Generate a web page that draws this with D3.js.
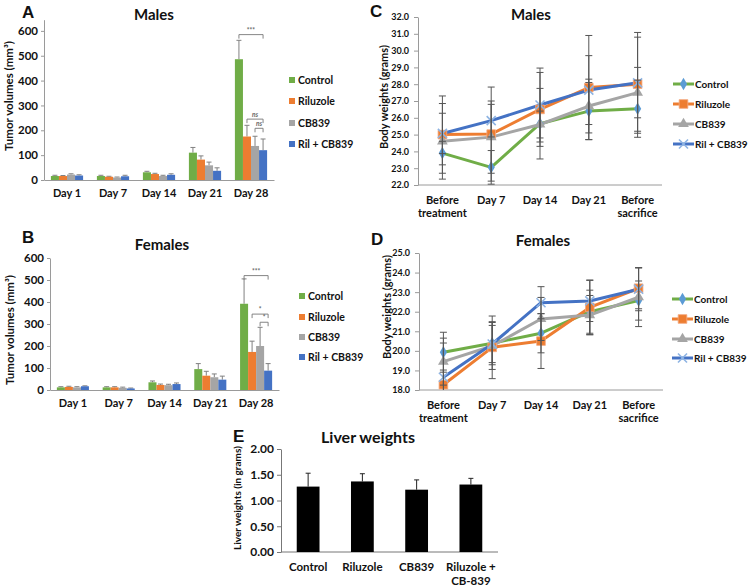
<!DOCTYPE html>
<html><head><meta charset="utf-8">
<script src="https://cdn.jsdelivr.net/npm/d3@7"></script>
<style>
body{margin:0;background:#fff;}
svg{font-family:Lato,"Open Sans",sans-serif;font-weight:bold;}
</style></head><body>
<svg id="c" width="750" height="587"></svg>
<script>
// ---------- data ----------
const days = ["Day 1","Day 7","Day 14","Day 21","Day 28"];
const groups = ["Control","Riluzole","CB839","Ril + CB839"];
const groupColors = ["#70ad47","#ed7d31","#a5a5a5","#4472c4"];
const tumorTicks = [0,100,200,300,400,500,600];

// Panel A: males tumor volume (mean, +error)
const maleControl = [16,16,31,110,486];
const maleRiluzole = [16,13,24,82,175];
const maleCB839 = [22,10,16,59,137];
const maleRilCB = [18,15,21,37,120];
const maleControlErr = [3,3,4,21,76];
const maleRiluzoleErr = [2,2,3,15,45];
const maleCB839Err = [3,2,3,13,39];
const maleRilCBErr = [3,4,4,12,45];
const maleSig = [[0,3,585,"***"],[1,3,245,"ns"],[2,3,208,"ns"]];

// Panel B: females tumor volume
const femControl = [12,12,35,95,392];
const femRiluzole = [14,12,23,65,173];
const femCB839 = [12,10,22,58,200];
const femRilCB = [17,7,27,47,88];
const femControlErr = [3,3,6,25,113];
const femRiluzoleErr = [3,3,4,20,49];
const femCB839Err = [3,3,4,15,85];
const femRilCBErr = [2,2,5,16,32];
const femSig = [[0,3,520,"***"],[1,3,345,"*"],[2,3,308,"*"]];

// Panels C, D: body weights
const timepoints = [["Before","treatment"],["Day 7"],["Day 14"],["Day 21"],["Before","sacrifice"]];
const maleBWTicks = [22,23,24,25,26,27,28,29,30,31,32];
const maleBWControl = [23.9,23.05,25.65,26.4,26.54];
const maleBWRiluzole = [25.0,25.03,26.5,27.8,28.0];
const maleBWCB839 = [24.6,24.85,25.6,26.7,27.5];
const maleBWRilCB = [25.07,25.83,26.76,27.65,28.08];
const maleBWControlSD = [0.7,1.0,2.1,1.7,1.7];
const maleBWRiluzoleSD = [2.3,2.8,2.2,3.1,2.8];
const maleBWCB839SD = [2.25,2.15,0.8,1.6,1.5];
const maleBWRilCBSD = [1.2,0.97,2.2,2.05,3.0];

const femBWTicks = [18,19,20,21,22,23,24,25];
const femBWControl = [19.93,20.39,20.9,22.0,22.57];
const femBWRiluzole = [18.27,20.18,20.5,22.22,23.2];
const femBWCB839 = [19.45,20.25,21.63,21.83,22.74];
const femBWRilCB = [18.65,20.35,22.46,22.55,23.15];
const femBWControlSD = [1.02,1.1,1.0,1.1,1.0];
const femBWRiluzoleSD = [0.75,1.6,1.4,1.4,1.05];
const femBWCB839SD = [1.2,1.2,1.1,1.0,1.5];
const femBWRilCBSD = [1.75,0.95,0.82,1.05,1.1];

// Panel E: liver weights
const liverGroups = [["Control"],["Riluzole"],["CB839"],["Riluzole +","CB-839"]];
const liverTicks = [0,0.5,1.0,1.5,2.0];
const liverValues = [1.27,1.37,1.21,1.31];
const liverErr = [0.26,0.15,0.19,0.12];

// ---------- drawing ----------
const svg = d3.select("#c");
const AXIS = "#9a9a9a";

function text(x,y,str,size,opts={}){
  const t = svg.append("text").attr("x",x).attr("y",y).attr("font-size",size)
    .attr("text-anchor",opts.anchor||"middle").attr("fill",opts.fill||"#111").text(str);
  if(opts.family) t.attr("font-family",opts.family);
  if(opts.rotate) t.attr("transform",`rotate(-90,${x},${y})`);
  if(opts.italic) t.attr("font-style","italic");
  return t;
}

function barPanel(cfg){
  const x0 = d3.scaleBand().domain(days).range(cfg.xr).paddingInner(0.3).paddingOuter(0.15);
  const x1 = d3.scaleBand().domain(groups).range([0,x0.bandwidth()]);
  const y = d3.scaleLinear().domain(cfg.yd).range(cfg.yr);
  const g = svg.append("g");
  const ya = g.append("g").attr("transform",`translate(${cfg.xr[0]},0)`)
    .call(d3.axisLeft(y).tickValues(tumorTicks).tickSize(3).tickPadding(3).tickSizeOuter(0));
  ya.select(".domain").attr("stroke",AXIS);
  ya.selectAll(".tick line").attr("stroke",AXIS);
  ya.selectAll("text").attr("font-size",11.5).attr("font-family","Lato").attr("font-weight","bold").attr("fill","#111");
  const xa = g.append("g").attr("transform",`translate(0,${y(0)})`)
    .call(d3.axisBottom(x0).tickSize(0).tickPadding(9).tickSizeOuter(0));
  xa.select(".domain").attr("stroke",AXIS);
  xa.selectAll("text").attr("font-size",11).attr("font-family","Lato").attr("font-weight","bold").attr("fill","#111");
  cfg.series.forEach((vals,si)=>{
    const errs = cfg.errs[si];
    vals.forEach((v,di)=>{
      const bx = x0(days[di]) + x1(groups[si]);
      const bw = x1.bandwidth();
      const cx = bx + bw/2;
      g.append("line").attr("x1",cx).attr("x2",cx).attr("y1",y(v)).attr("y2",y(v+errs[di]))
        .attr("stroke","#808080").attr("stroke-width",1);
      g.append("line").attr("x1",cx-2.5).attr("x2",cx+2.5).attr("y1",y(v+errs[di])).attr("y2",y(v+errs[di]))
        .attr("stroke","#808080").attr("stroke-width",1);
      g.append("rect").attr("x",bx).attr("width",bw).attr("y",y(v)).attr("height",y(0)-y(v))
        .attr("fill",groupColors[si]);
    });
  });
  cfg.sig.forEach(([a,b,v,lab])=>{
    const xa_ = x0(days[4]) + x1(groups[a]) + x1.bandwidth()/2;
    const xb_ = x0(days[4]) + x1(groups[b]) + x1.bandwidth()/2;
    const yy = y(v);
    g.append("path").attr("d",`M${xa_},${yy+4}V${yy}H${xb_}V${yy+4}`)
      .attr("fill","none").attr("stroke","#777").attr("stroke-width",0.9);
    text((xa_+xb_)/2, yy-2, lab, 6.5, {fill:"#666", italic: lab==="ns"});
  });
  groups.forEach((gname,i)=>{
    const ly = cfg.legY[i];
    g.append("rect").attr("x",cfg.legX).attr("y",ly-3).attr("width",6).attr("height",6).attr("fill",groupColors[i]);
    text(cfg.legX+9, ly+4, gname, 10.5, {anchor:"start"});
  });
  text(cfg.title[0],cfg.title[1],cfg.title[2],15);
  text(cfg.letter[0],cfg.letter[1],cfg.letter[2],17,{anchor:"start",family:"Liberation Sans"});
  text(cfg.ylab[0],cfg.ylab[1],"Tumor volumes (mm³)",11.5,{rotate:true});
}

barPanel({
  xr:[44,274], yd:[0,645], yr:[180,19.7],
  series:[maleControl,maleRiluzole,maleCB839,maleRilCB],
  errs:[maleControlErr,maleRiluzoleErr,maleCB839Err,maleRilCBErr],
  sig:maleSig, legX:289, legY:[80,101,123,144],
  title:[154,20,"Males"], letter:[22,18,"A"], ylab:[13,96]
});
barPanel({
  xr:[50,279], yd:[0,600], yr:[390,258],
  series:[femControl,femRiluzole,femCB839,femRilCB],
  errs:[femControlErr,femRiluzoleErr,femCB839Err,femRilCBErr],
  sig:femSig, legX:299, legY:[296,317,337,357],
  title:[162,250,"Females"], letter:[22,243,"B"], ylab:[14,330]
});

const symbols = [d3.symbolDiamond, d3.symbolSquare, d3.symbolTriangle, d3.symbolTimes];
const symSize = [45, 75, 50, 55];
const symFill = ["#5b9bd5","#ed7d31","#a5a5a5","none"];

function marker(g,i,cx,cy){
  const p = g.append("path").attr("d",d3.symbol(symbols[i],symSize[i])())
    .attr("transform",`translate(${cx},${cy})`);
  if(i===3) p.attr("fill","none").attr("stroke","#8eb4e3").attr("stroke-width",1.6);
  else if(i===1) p.attr("fill",symFill[i]).attr("stroke","#f4a982").attr("stroke-width",0.8);
  else p.attr("fill",symFill[i]);
}

function linePanel(cfg){
  const x = d3.scalePoint().domain(d3.range(5)).range(cfg.xr).padding(0.5);
  const y = d3.scaleLinear().domain(cfg.yd).range(cfg.yr);
  const g = svg.append("g");
  const ya = g.append("g").attr("transform",`translate(${cfg.xr[0]},0)`)
    .call(d3.axisLeft(y).tickValues(cfg.ticks).tickFormat(d3.format(".1f")).tickSize(4).tickPadding(5).tickSizeOuter(0));
  ya.select(".domain").attr("stroke",AXIS);
  ya.selectAll(".tick line").attr("stroke",AXIS);
  ya.selectAll("text").attr("font-size",9).attr("font-family","Lato").attr("font-weight","bold").attr("fill","#111");
  g.append("line").attr("x1",cfg.xr[0]).attr("x2",cfg.xr[1]).attr("y1",y(cfg.yd[0])).attr("y2",y(cfg.yd[0]))
    .attr("stroke",AXIS);
  timepoints.forEach((lines,i)=>{
    lines.forEach((l,j)=> text(x(i), y(cfg.yd[0])+19+j*12.5, l, 11));
  });
  const line = d3.line().x((d,i)=>x(i)).y(d=>y(d));
  cfg.series.forEach((vals,si)=>{
    g.append("path").datum(vals).attr("d",line).attr("fill","none")
      .attr("stroke",groupColors[si]).attr("stroke-width",3).attr("stroke-linejoin","round");
  });
  cfg.series.forEach((vals,si)=>{
    vals.forEach((v,i)=> marker(g,si,x(i),y(v)));
  });
  cfg.series.forEach((vals,si)=>{
    const sd = cfg.sds[si];
    vals.forEach((v,i)=>{
      const cx = x(i);
      const lo = Math.max(v-sd[i], cfg.yd[0]);
      const hi = v+sd[i];
      g.append("line").attr("x1",cx).attr("x2",cx).attr("y1",y(lo)).attr("y2",y(hi)).attr("stroke","#555").attr("stroke-width",1);
      g.append("line").attr("x1",cx-3.5).attr("x2",cx+3.5).attr("y1",y(hi)).attr("y2",y(hi)).attr("stroke","#555");
      if(v-sd[i] > cfg.yd[0])
        g.append("line").attr("x1",cx-3.5).attr("x2",cx+3.5).attr("y1",y(lo)).attr("y2",y(lo)).attr("stroke","#555");
    });
  });
  groups.forEach((gname,i)=>{
    const ly = cfg.legY[i];
    g.append("line").attr("x1",cfg.legX).attr("x2",cfg.legX+21).attr("y1",ly).attr("y2",ly)
      .attr("stroke",groupColors[i]).attr("stroke-width",3);
    marker(g,i,cfg.legX+10.5,ly);
    text(cfg.legX+22, ly+4, gname, 10, {anchor:"start"});
  });
  text(cfg.title[0],cfg.title[1],cfg.title[2],15);
  text(cfg.letter[0],cfg.letter[1],cfg.letter[2],17,{anchor:"start",family:"Liberation Sans"});
  text(cfg.ylab[0],cfg.ylab[1],"Body weights (grams)",11,{rotate:true});
}

linePanel({
  xr:[418,662], yd:[22,32], yr:[185,17], ticks:maleBWTicks,
  series:[maleBWControl,maleBWRiluzole,maleBWCB839,maleBWRilCB],
  sds:[maleBWControlSD,maleBWRiluzoleSD,maleBWCB839SD,maleBWRilCBSD],
  legX:673, legY:[84,104,124,144],
  title:[531,20,"Males"], letter:[370,17,"C"], ylab:[388,97]
});
linePanel({
  xr:[419,663], yd:[18,25], yr:[390,253], ticks:femBWTicks,
  series:[femBWControl,femBWRiluzole,femBWCB839,femBWRilCB],
  sds:[femBWControlSD,femBWRiluzoleSD,femBWCB839SD,femBWRilCBSD],
  legX:672, legY:[299,319,339,358],
  title:[543,246,"Females"], letter:[371,245,"D"], ylab:[391,307]
});

// Panel E
(function(){
  const x = d3.scaleBand().domain(d3.range(4)).range([281,498]).paddingInner(0.58).paddingOuter(0.29);
  const y = d3.scaleLinear().domain([0,2]).range([552,449]);
  const g = svg.append("g");
  const ya = g.append("g").attr("transform","translate(281,0)")
    .call(d3.axisLeft(y).tickValues(liverTicks).tickFormat(d3.format(".2f")).tickSize(4).tickPadding(3).tickSizeOuter(0));
  ya.select(".domain").attr("stroke","#777");
  ya.selectAll(".tick line").attr("stroke","#777");
  ya.selectAll("text").attr("font-size",12).attr("font-family","Lato").attr("font-weight","bold").attr("fill","#111");
  g.append("line").attr("x1",281).attr("x2",498).attr("y1",y(0)).attr("y2",y(0)).attr("stroke","#777");
  liverValues.forEach((v,i)=>{
    const cx = x(i)+x.bandwidth()/2;
    g.append("line").attr("x1",cx).attr("x2",cx).attr("y1",y(v)).attr("y2",y(v+liverErr[i])).attr("stroke","#222");
    g.append("line").attr("x1",cx-2.5).attr("x2",cx+2.5).attr("y1",y(v+liverErr[i])).attr("y2",y(v+liverErr[i])).attr("stroke","#222");
    g.append("rect").attr("x",x(i)).attr("width",x.bandwidth()).attr("y",y(v)).attr("height",y(0)-y(v)).attr("fill","#000");
  });
  liverGroups.forEach((lines,i)=>{
    const cx = x(i)+x.bandwidth()/2;
    lines.forEach((l,j)=> text(cx, 571+j*13.5, l, 11.5));
  });
  text(368,443,"Liver weights",16);
  text(233,442,"E",17,{anchor:"start",family:"Liberation Sans"});
  text(241,498,"Liver weights (in grams)",10,{rotate:true});
})();
</script>
</body></html>
